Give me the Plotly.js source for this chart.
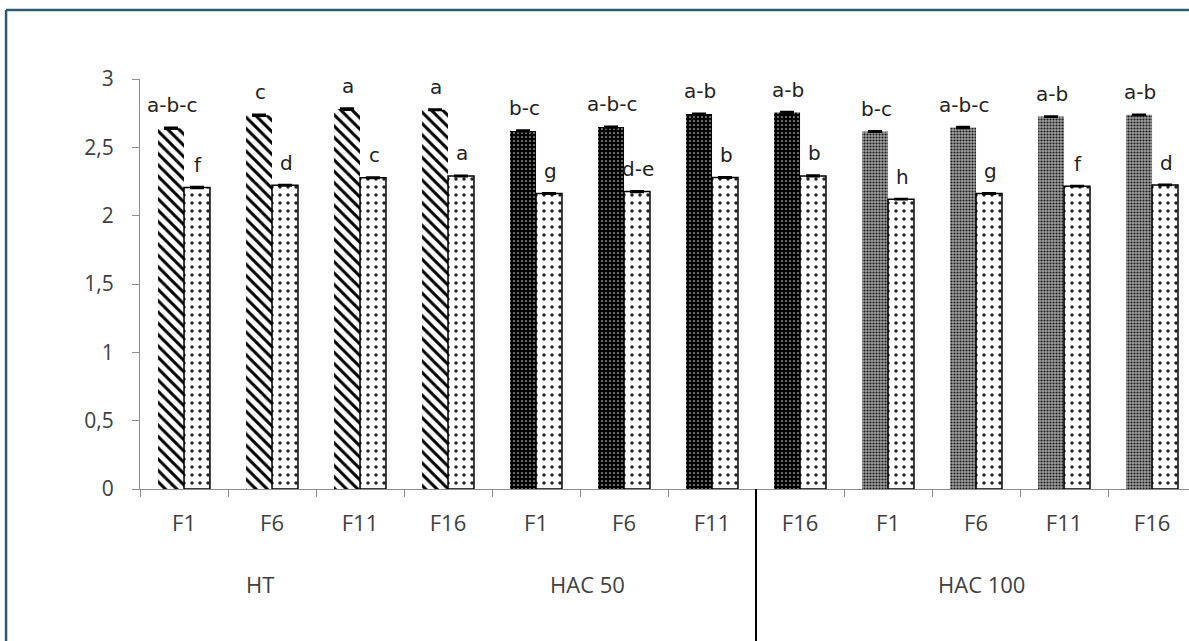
<!DOCTYPE html>
<html>
<head>
<meta charset="utf-8">
<script src="https://cdn.plot.ly/plotly-3.0.1.min.js"></script>
<style>
html,body{margin:0;padding:0;background:#fff;}
#chart{width:1189px;height:641px;}
</style>
</head>
<body>
<div id="chart"></div>
<script>
// ---- data ----
const factorLabels = ["F1","F6","F11","F16","F1","F6","F11","F16","F1","F6","F11","F16"];
const groupNames = ["HT","HAC 50","HAC 100"];
const series1 = [2.64,2.735,2.78,2.775,2.62,2.648,2.743,2.755,2.616,2.645,2.725,2.738];
const series2 = [2.206,2.222,2.277,2.29,2.162,2.176,2.279,2.291,2.121,2.162,2.216,2.225];
const err1 = [0.006,0.006,0.006,0.004,0.005,0.005,0.005,0.005,0.004,0.005,0.003,0.003];
const err2 = [0.006,0.004,0.004,0.004,0.004,0.005,0.004,0.005,0.003,0.004,0.003,0.003];
const letters1 = ["a-b-c","c","a","a","b-c","a-b-c","a-b","a-b","b-c","a-b-c","a-b","a-b"];
const letters2 = ["f","d","c","a","g","d-e","b","b","h","g","f","d"];
const groupOf = [0,0,0,0,1,1,1,1,2,2,2,2];

const idx = factorLabels.map((_, i) => i);

// styles per group for the first series
const shapeByGroup = ["\\", ".", "."];
const fgByGroup = ["#000000", "#ffffff", "#1a1a1a"];
const bgByGroup = ["#ffffff", "#000000", "#a0a0a0"];
const sizeByGroup = [8, 4, 3];
const solByGroup = [0.38, 0.12, 0.4];

const trace1 = {
  type: "bar",
  x: idx,
  y: series1,
  marker: {
    color: "#000000",
    line: {width: 0},
    pattern: {
      shape: groupOf.map(g => shapeByGroup[g]),
      fgcolor: groupOf.map(g => fgByGroup[g]),
      bgcolor: groupOf.map(g => bgByGroup[g]),
      size: groupOf.map(g => sizeByGroup[g]),
      solidity: groupOf.map(g => solByGroup[g]),
      fillmode: "replace"
    }
  },
  error_y: {type: "data", array: err1, visible: true, color: "#000", thickness: 2, width: 7},
  hoverinfo: "skip"
};

const trace2 = {
  type: "bar",
  x: idx,
  y: series2,
  marker: {
    color: "#ffffff",
    line: {width: 1.5, color: "#000"},
    pattern: {shape: ".", fgcolor: "#222222", bgcolor: "#ffffff", size: 8, solidity: 0.14, fillmode: "replace"}
  },
  error_y: {type: "data", array: err2, visible: true, color: "#000", thickness: 2, width: 7},
  hoverinfo: "skip"
};

const letterFont = {family: "DejaVu Sans", size: 20, color: "#222"};
const annotations = [];
idx.forEach(i => {
  annotations.push({x: i, y: series1[i] + err1[i], xref: "x", yref: "y", text: letters1[i],
    showarrow: false, xshift: -12, yshift: 8, yanchor: "bottom", font: letterFont});
  annotations.push({x: i, y: series2[i] + err2[i], xref: "x", yref: "y", text: letters2[i],
    showarrow: false, xshift: 14, yshift: 8, yanchor: "bottom", font: letterFont});
});
const groupPos = [0.86, 4.58, 9.06];
groupNames.forEach((g, k) => {
  annotations.push({x: groupPos[k], y: -0.232, xref: "x", yref: "paper", text: g, showarrow: false,
    yanchor: "middle", xanchor: "center", font: {family: "Open Sans", size: 22, color: "#404040"}});
});

const boundaries = idx.map(i => i - 0.5).concat([11.5]);

const layout = {
  width: 1189, height: 641,
  margin: {l: 140, r: 0, t: 79, b: 152, pad: 0},
  paper_bgcolor: "#ffffff", plot_bgcolor: "#ffffff",
  separators: ", ",
  showlegend: false,
  barmode: "group",
  bargap: 0.41,
  bargroupgap: 0,
  xaxis: {
    range: [-0.5, 11.42],
    tickmode: "array", tickvals: idx, ticktext: factorLabels,
    ticks: "", showgrid: false, zeroline: false,
    showline: true, linecolor: "#8c8c8c", linewidth: 1,
    ticklabelstandoff: 15,
    tickfont: {family: "Open Sans", size: 22, color: "#404040"},
    minor: {tickmode: "array", tickvals: boundaries, ticks: "outside", ticklen: 7, tickcolor: "#8c8c8c", tickwidth: 1, showgrid: false},
    fixedrange: true
  },
  yaxis: {
    range: [0, 3], dtick: 0.5, tick0: 0,
    ticks: "outside", ticklen: 7, tickcolor: "#8c8c8c",
    showgrid: false, zeroline: false,
    showline: true, linecolor: "#8c8c8c", linewidth: 1,
    ticklabelstandoff: 14,
    tickfont: {family: "Open Sans", size: 21, color: "#404040"},
    fixedrange: true
  },
  annotations: annotations,
  shapes: [
    {type: "line", xref: "x", yref: "paper", x0: 6.5, x1: 6.5, y0: 0, y1: -0.4, line: {color: "#000", width: 2}},
    {type: "line", xref: "paper", yref: "paper", x0: -0.1277, x1: -0.1277, y0: 1.168, y1: -0.4, line: {color: "#2d5b73", width: 2.5}},
    {type: "line", xref: "paper", yref: "paper", x0: -0.1277, x1: 1.01, y0: 1.168, y1: 1.168, line: {color: "#2d5b73", width: 2.5}}
  ]
};

Plotly.newPlot("chart", [trace1, trace2], layout, {staticPlot: true, displayModeBar: false});
</script>
</body>
</html>
